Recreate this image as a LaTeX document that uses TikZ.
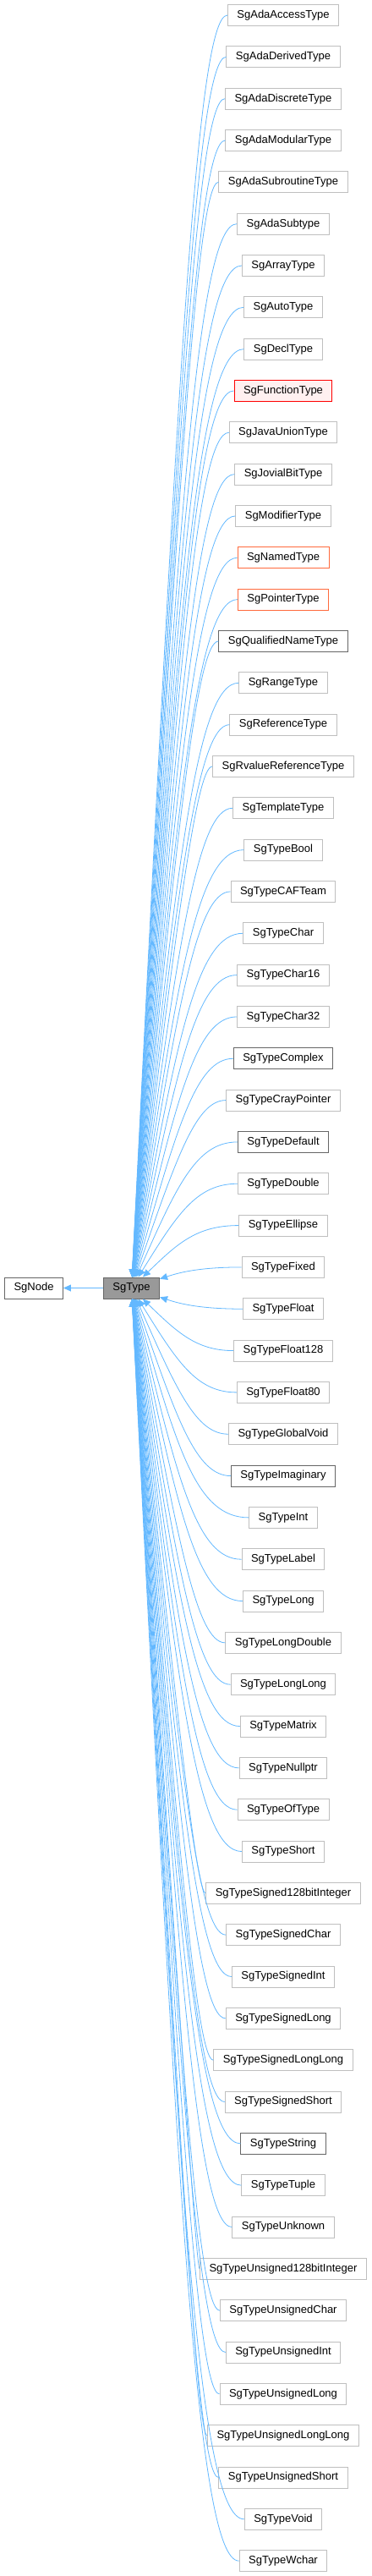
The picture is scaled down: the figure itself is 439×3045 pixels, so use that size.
\documentclass[tikz,border=0pt]{standalone}
\usepackage{fontspec}
\setmainfont{Liberation Sans}
\usetikzlibrary{arrows.meta, calc}

\definecolor{edgeblue}{HTML}{63B8FF}
\definecolor{undocgray}{HTML}{BFBFBF}
\definecolor{docgray}{HTML}{666666}
\definecolor{truncred}{HTML}{FF0000}
\definecolor{truncfill}{HTML}{FFF0F0}
\definecolor{partorange}{HTML}{FF6A3D}
\definecolor{basefill}{HTML}{999999}

\begin{document}
\begin{tikzpicture}[x=1pt, y=1pt,
    classbox/.style={rectangle, draw, line width=1pt, minimum height=25pt,
                     inner xsep=11pt, inner ysep=0pt, font=\fontsize{13}{15}\selectfont},
    edge/.style={draw=edgeblue, line width=0.8pt, -{Triangle[length=9pt, width=8pt]}}]

    \useasboundingbox (0,0) rectangle (439,-3045);

    % base classes
    \node[classbox, draw=docgray, fill=basefill] (sgtype) at (155.5,-1522.5) {SgType};
    \node[classbox, draw=docgray, fill=white] (sgnode) at (40,-1522.5) {SgNode};
    \draw[edge] (sgtype) -- (sgnode);

    % derived classes
    \foreach \cls/\bd/\bg [count=\i from 0] in {
        SgAdaAccessType/undocgray/white, SgAdaDerivedType/undocgray/white,
        SgAdaDiscreteType/undocgray/white, SgAdaModularType/undocgray/white,
        SgAdaSubroutineType/undocgray/white, SgAdaSubtype/undocgray/white,
        SgArrayType/undocgray/white, SgAutoType/undocgray/white,
        SgDeclType/undocgray/white, SgFunctionType/truncred/truncfill,
        SgJavaUnionType/undocgray/white, SgJovialBitType/undocgray/white,
        SgModifierType/undocgray/white, SgNamedType/partorange/white,
        SgPointerType/partorange/white, SgQualifiedNameType/docgray/white,
        SgRangeType/undocgray/white, SgReferenceType/undocgray/white,
        SgRvalueReferenceType/undocgray/white, SgTemplateType/undocgray/white,
        SgTypeBool/undocgray/white, SgTypeCAFTeam/undocgray/white,
        SgTypeChar/undocgray/white, SgTypeChar16/undocgray/white,
        SgTypeChar32/undocgray/white, SgTypeComplex/docgray/white,
        SgTypeCrayPointer/undocgray/white, SgTypeDefault/docgray/white,
        SgTypeDouble/undocgray/white, SgTypeEllipse/undocgray/white,
        SgTypeFixed/undocgray/white, SgTypeFloat/undocgray/white,
        SgTypeFloat128/undocgray/white, SgTypeFloat80/undocgray/white,
        SgTypeGlobalVoid/undocgray/white, SgTypeImaginary/docgray/white,
        SgTypeInt/undocgray/white, SgTypeLabel/undocgray/white,
        SgTypeLong/undocgray/white, SgTypeLongDouble/undocgray/white,
        SgTypeLongLong/undocgray/white, SgTypeMatrix/undocgray/white,
        SgTypeNullptr/undocgray/white, SgTypeOfType/undocgray/white,
        SgTypeShort/undocgray/white, SgTypeSigned128bitInteger/undocgray/white,
        SgTypeSignedChar/undocgray/white, SgTypeSignedInt/undocgray/white,
        SgTypeSignedLong/undocgray/white, SgTypeSignedLongLong/undocgray/white,
        SgTypeSignedShort/undocgray/white, SgTypeString/docgray/white,
        SgTypeTuple/undocgray/white, SgTypeUnknown/undocgray/white,
        SgTypeUnsigned128bitInteger/undocgray/white, SgTypeUnsignedChar/undocgray/white,
        SgTypeUnsignedInt/undocgray/white, SgTypeUnsignedLong/undocgray/white,
        SgTypeUnsignedLongLong/undocgray/white, SgTypeUnsignedShort/undocgray/white,
        SgTypeVoid/undocgray/white, SgTypeWchar/undocgray/white}{
        \pgfmathsetmacro\yy{-18-49.33*\i}
        \node[classbox, draw=\bd, fill=\bg] (c\i) at (335,\yy) {\cls};
        \draw[edge] (c\i.west) .. controls (232,\yy) and ($(232,\yy)!0.3!(sgtype)$) .. (sgtype);
    }

\end{tikzpicture}
\end{document}
